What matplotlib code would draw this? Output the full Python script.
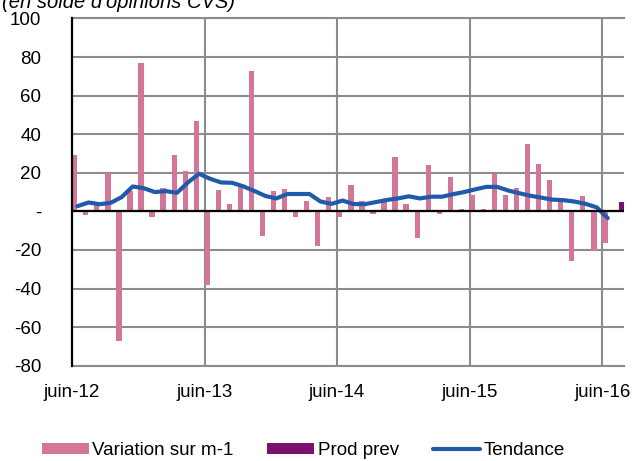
import numpy as np
import matplotlib
matplotlib.use('Agg')
import matplotlib.pyplot as plt

plt.rcParams['font.family'] = ['Liberation Sans', 'DejaVu Sans']

# monthly data, juin-12 .. juin-16
variation = [29, -2, 3.5, 20, -67, 10.5, 77, -3, 12, 29, 21, 47,
             -38, 11, 4, 13, 73, -13, 10.5, 11.5, -3, 5.5, -18, 7.5,
             -3, 13.8, 5.5, -1.6, 4.8, 28.2, 3.6, -14, 24.2, -1.6, 18, 1.4,
             8.6, 1.4, 19.2, 8.6, 12, 34.7, 24.3, 16.3, 4.8, -25.5, 7.8, -20.5,
             -16.5]
tendance = [2.7, 4.6, 3.7, 4.4, 7.4, 12.9, 12, 10, 10.5, 9.6, 15, 19.5,
            16.9, 15, 14.8, 13, 10.6, 8, 6.7, 9, 9, 9, 5.1, 3.9,
            5.6, 3.8, 3.7, 4.8, 5.9, 6.7, 7.8, 6.7, 7.6, 7.6, 8.9, 10,
            11.4, 12.7, 12.7, 10.8, 9.4, 8.1, 7.1, 6.1, 5.8, 5.1, 3.9, 2.1,
            -3.5]
prod_prev_month = 49  # juil-16
prod_prev = [4.8]

xtick_labels = ['juin-12', 'juin-13', 'juin-14', 'juin-15', 'juin-16']
ytick_values = [100, 80, 60, 40, 20, 0, -20, -40, -60, -80]
ytick_labels = ['100', '80', '60', '40', '20', '-', '-20', '-40', '-60', '-80']

pink = '#D4769A'
purple = '#7B116E'
blue = '#1F5BA8'
grid = '#8C8C8C'

fig = plt.figure(figsize=(6.37, 4.61), dpi=100)
ax = fig.add_axes([0.113, 0.2067, 0.867, 0.7533])

months = np.arange(len(variation))
b1 = ax.bar(months + 0.25, variation, width=0.48, color=pink, zorder=3,
            label='Variation sur m-1')
b2 = ax.bar(np.array([prod_prev_month]) + 0.75, prod_prev, width=0.5,
            color=purple, zorder=3, label='Prod prev')
l1, = ax.plot(months + 0.5, tendance, color=blue, lw=3, zorder=4,
              solid_capstyle='round', label='Tendance')

ax.axhline(0, color='black', lw=1.6, zorder=5)

ax.set_xlim(0, 50)
ax.set_ylim(-80, 100)
ax.set_yticks(ytick_values)
ax.set_yticklabels(ytick_labels)
ax.set_xticks([0, 12, 24, 36, 48])
ax.set_xticklabels(xtick_labels)
ax.tick_params(axis='both', length=0, labelsize=13.5)
ax.tick_params(axis='y', pad=22)
ax.tick_params(axis='x', pad=13)

ax.grid(True, color=grid, lw=1.5, zorder=0)
ax.set_axisbelow(True)
ax.spines['right'].set_visible(False)
ax.spines['top'].set_color(grid)
ax.spines['top'].set_linewidth(1.5)
ax.spines['bottom'].set_color(grid)
ax.spines['bottom'].set_linewidth(1.5)
ax.spines['left'].set_color('black')
ax.spines['left'].set_linewidth(1.6)
ax.spines['left'].set_zorder(6)

fig.text(0.003, 1 - 8.5 / 461, "(en solde d'opinions CVS)", fontsize=14.5,
         style='italic', ha='left', va='baseline')

fig.legend([b1, b2, l1], ['Variation sur m-1', 'Prod prev', 'Tendance'],
           loc='center', bbox_to_anchor=(0.476, 0.022), ncol=3,
           frameon=False, fontsize=13.5, handlelength=2.5, handleheight=0.55,
           handletextpad=0.2, columnspacing=1.8)

fig.savefig('out.png', dpi=100)
